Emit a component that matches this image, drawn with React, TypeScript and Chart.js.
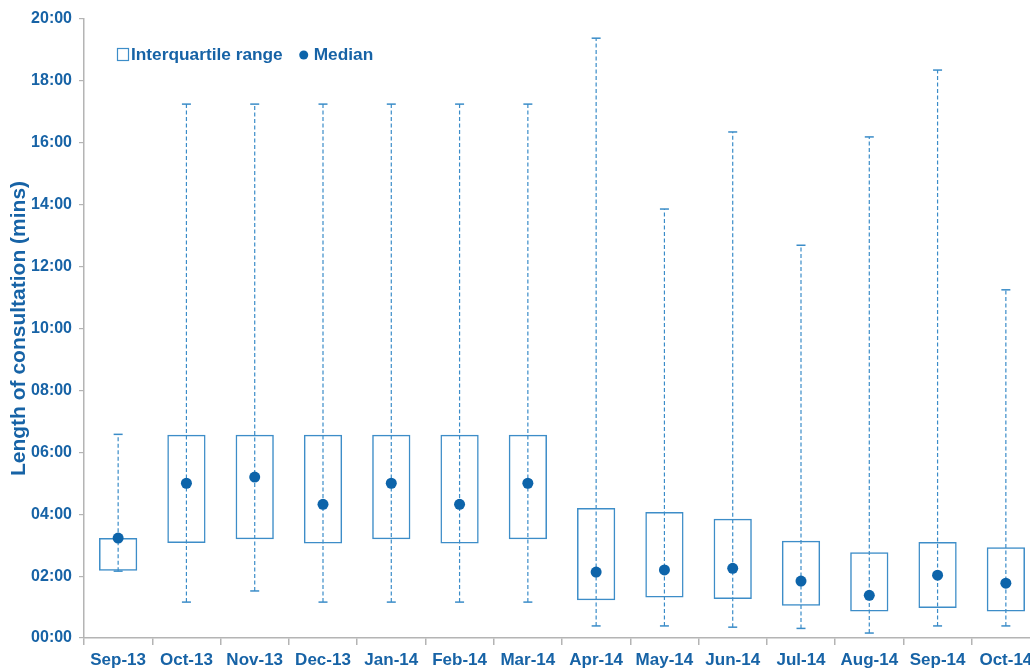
import React, { useEffect, useRef } from "react";
import { Chart, registerables } from "chart.js";

Chart.register(...registerables);

const categories = ["Sep-13", "Oct-13", "Nov-13", "Dec-13", "Jan-14", "Feb-14", "Mar-14", "Apr-14", "May-14", "Jun-14", "Jul-14", "Aug-14", "Sep-14", "Oct-14"];
const minVals = [2.16, 1.16, 1.52, 1.16, 1.16, 1.16, 1.16, 0.39, 0.39, 0.35, 0.31, 0.16, 0.39, 0.39];
const q1Vals = [2.17, 3.07, 3.19, 3.05, 3.19, 3.05, 3.19, 1.22, 1.31, 1.26, 1.04, 0.86, 0.97, 0.86];
const medianVals = [3.23, 5.0, 5.2, 4.32, 5.0, 4.32, 5.0, 2.13, 2.2, 2.25, 1.84, 1.38, 2.03, 1.77];
const q3Vals = [3.23, 6.57, 6.57, 6.57, 6.57, 6.57, 6.57, 4.2, 4.07, 3.85, 3.14, 2.77, 3.1, 2.93];
const maxVals = [6.58, 17.25, 17.25, 17.25, 17.25, 17.25, 17.25, 19.38, 13.86, 16.35, 12.69, 16.19, 18.35, 11.25];
const yTicks = [0, 2, 4, 6, 8, 10, 12, 14, 16, 18, 20];
const legendLabels = ["Interquartile range", "Median"];
const yTitle = "Length of consultation (mins)";

const TEXT = "#1763a6";
const BOX = "#3d8dc8";
const WHISK = "#3a8cc8";
const DOT = "#0d64aa";
const AXIS = "#b4b4b4";
const FONT = "'Liberation Sans', Arial, sans-serif";

const legendPlugin = {
  id: "insideLegend",
  afterDraw(chart: any) {
    const ctx = chart.ctx;
    const a = chart.chartArea;
    const y = a.top + 36;
    ctx.save();
    ctx.font = `bold 17.3px ${FONT}`;
    ctx.textBaseline = "middle";
    ctx.fillStyle = TEXT;
    let x = a.left + 33;
    ctx.strokeStyle = BOX;
    ctx.lineWidth = 1.2;
    ctx.strokeRect(x + 0.5, y - 6.5, 11, 12);
    x += 14;
    ctx.fillText(legendLabels[0], x, y);
    x += ctx.measureText(legendLabels[0]).width + 21;
    ctx.fillStyle = DOT;
    ctx.beginPath();
    ctx.arc(x, y, 4.5, 0, Math.PI * 2);
    ctx.fill();
    ctx.fillStyle = TEXT;
    ctx.fillText(legendLabels[1], x + 10, y);
    ctx.restore();
  },
};

export default function App() {
  const ref = useRef<HTMLCanvasElement>(null);

  useEffect(() => {
    if (!ref.current) return;
    const whiskerData: any[] = [];
    categories.forEach((c, i) => {
      whiskerData.push({ x: c, y: minVals[i] });
      whiskerData.push({ x: c, y: maxVals[i] });
      whiskerData.push({ x: c, y: null });
    });
    const chart = new Chart(ref.current, {
      type: "bar",
      data: {
        labels: categories,
        datasets: [
          {
            type: "line",
            label: "Range",
            data: whiskerData,
            borderColor: WHISK,
            borderWidth: 1.2,
            borderDash: [4, 2.5],
            spanGaps: false,
            pointStyle: "line",
            pointRadius: 4.5,
            pointBorderWidth: 1.5,
            pointBorderColor: WHISK,
            pointBackgroundColor: WHISK,
            order: 3,
          } as any,
          {
            type: "bar",
            label: legendLabels[0],
            data: categories.map((_, i) => [q1Vals[i], q3Vals[i]]),
            backgroundColor: "rgba(0,0,0,0)",
            borderColor: BOX,
            borderWidth: 1.5,
            borderSkipped: false,
            barPercentage: 0.56,
            categoryPercentage: 1,
            order: 2,
          } as any,
          {
            type: "line",
            label: legendLabels[1],
            data: medianVals,
            showLine: false,
            pointRadius: 5.5,
            pointBackgroundColor: DOT,
            pointBorderColor: DOT,
            pointBorderWidth: 0,
            order: 1,
          } as any,
        ],
      },
      options: {
        responsive: false,
        animation: false,
        layout: { padding: { top: 19, right: 6, left: 0, bottom: 0 } },
        plugins: { legend: { display: false }, tooltip: { enabled: false } },
        scales: {
          x: {
            offset: true,
            grid: { offset: true, drawOnChartArea: false, tickLength: 7, color: AXIS, lineWidth: 1.5 },
            border: { color: AXIS, width: 1.5 },
            ticks: { color: TEXT, font: { family: FONT, size: 17, weight: "bold" }, padding: 5, maxRotation: 0, autoSkip: false },
            afterFit(scale: any) {
              scale.height = 32;
            },
          },
          y: {
            min: 0,
            max: 20,
            afterBuildTicks(scale: any) {
              scale.ticks = yTicks.map((v) => ({ value: v }));
            },
            grid: { drawOnChartArea: false, tickLength: 5, color: AXIS, lineWidth: 1.2 },
            border: { color: AXIS, width: 1.5 },
            ticks: {
              color: TEXT,
              padding: 7,
              font: { family: FONT, size: 16, weight: "bold" },
              callback: (v: any) => String(v).padStart(2, "0") + ":00",
            },
            title: {
              display: true,
              text: yTitle,
              color: TEXT,
              font: { family: FONT, size: 21, weight: "bold" },
              padding: { top: 7, bottom: 0 },
            },
            afterFit(scale: any) {
              scale.width = 84;
            },
          },
        },
      },
      plugins: [legendPlugin],
    });
    return () => chart.destroy();
  }, []);

  return (
    <div style={{ position: "fixed", left: 0, top: 0, width: 1030, height: 670, overflow: "hidden", background: "#fff" }}>
      <canvas ref={ref} width={1046} height={670} style={{ width: 1046, height: 670, display: "block" }} />
    </div>
  );
}
